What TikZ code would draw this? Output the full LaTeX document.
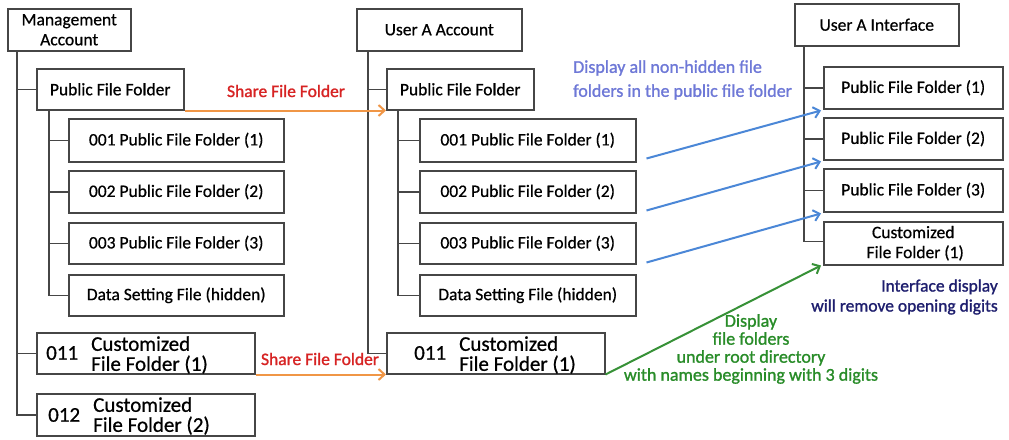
\documentclass[tikz,border=0pt]{standalone}
\usepackage{fontspec}
\setmainfont{Carlito}[FakeBold=0.6]
\newfontfamily\heavyfont{Carlito}[FakeBold=1.2]
\usetikzlibrary{arrows.meta,calc}
\definecolor{boxc}{RGB}{70,70,70}
\definecolor{redt}{RGB}{215,35,35}
\definecolor{orangea}{RGB}{240,150,70}
\definecolor{bluea}{RGB}{75,135,215}
\definecolor{bluet}{RGB}{110,120,215}
\definecolor{navyt}{RGB}{30,30,110}
\definecolor{greena}{RGB}{55,145,55}
\definecolor{greent}{RGB}{40,140,40}
\newcommand\fsA{\fontsize{17.5}{20}\selectfont}
\newcommand\fsB{\fontsize{21}{20}\selectfont}
\begin{document}
\begin{tikzpicture}[x=1pt,y=-1pt,
  box/.style={draw=boxc, line width=1.5pt, inner sep=0pt, minimum height=42pt, anchor=north west, font=\fsA, align=center},
  tline/.style={draw=boxc, line width=1.5pt},
  txt/.style={inner sep=0pt, font=\heavyfont\fsA},
  big/.style={inner sep=0pt, font=\fsB, align=left},
  share/.style={draw=orangea, line width=2pt, -{Straight Barb[length=6pt,width=11pt]}},
  bluearr/.style={draw=bluea, line width=2pt, -{Straight Barb[length=6pt,width=11pt]}},
  greenarr/.style={draw=greena, line width=2pt, -{Straight Barb[length=6pt,width=11pt]}},
]
\useasboundingbox (0,0) rectangle (1009,439);
\fill[white] (0,0) rectangle (1009,439);

% ---------- Management Account ----------
\node[box, minimum width=123pt] (mgmt) at (7,8) {Management\\Account};
\node[box, minimum width=147pt, minimum height=41pt] (mpub) at (36,68) {Public File Folder};
\node[box, minimum width=215pt, minimum height=43pt] (m001) at (68,118) {001 Public File Folder (1)};
\node[box, minimum width=215pt] (m002) at (68,170) {002 Public File Folder (2)};
\node[box, minimum width=215pt, minimum height=41pt] (m003) at (68,222) {003 Public File Folder (3)};
\node[box, minimum width=215pt, minimum height=41pt] (mdata) at (68,274) {Data Setting File (hidden)};
\node[box, minimum width=218pt, minimum height=41pt] (m011) at (36,332) {};
\node[big, anchor=west] (m011n) at (46,353) {011};
\node[big, anchor=west] (m011t) at (91,355) {Customized\\File Folder (1)};
\node[box, minimum width=218pt, minimum height=42pt] (m012) at (36,393) {};
\node[big, anchor=west] (m012n) at (48,415) {012};
\node[big, anchor=west] (m012t) at (93,416) {Customized\\File Folder (2)};

\coordinate (mt) at ([xshift=10pt]mgmt.south west);
\draw[tline] (mt) |- (m012.west);
\draw[tline] (mt |- mpub.west) -- (mpub.west);
\draw[tline] (mt |- m011.west) -- (m011.west);
\coordinate (ms) at ([xshift=13pt]mpub.south west);
\draw[tline] (ms) |- (mdata.west);
\draw[tline] (ms |- m001.west) -- (m001.west);
\draw[tline] (ms |- m002.west) -- (m002.west);
\draw[tline] (ms |- m003.west) -- (m003.west);

% ---------- User A Account ----------
\node[box, minimum width=165pt] (uacc) at (356,8) {User A Account};
\node[box, minimum width=147pt, minimum height=41pt] (apub) at (386,68) {Public File Folder};
\node[box, minimum width=216pt, minimum height=43pt] (a001) at (419,118) {001 Public File Folder (1)};
\node[box, minimum width=216pt] (a002) at (419,170) {002 Public File Folder (2)};
\node[box, minimum width=216pt, minimum height=41pt] (a003) at (419,222) {003 Public File Folder (3)};
\node[box, minimum width=216pt, minimum height=41pt] (adata) at (419,274) {Data Setting File (hidden)};
\node[box, minimum width=218pt, minimum height=41pt] (a011) at (386,332) {};
\node[big, anchor=west] (a011n) at (414,353) {011};
\node[big, anchor=west] (a011t) at (459,355) {Customized\\File Folder (1)};

\coordinate (at) at ([xshift=12pt]uacc.south west);
\draw[tline] (at) |- (a011.west);
\draw[tline] (at |- apub.west) -- (apub.west);
\coordinate (as) at ([xshift=12pt]apub.south west);
\draw[tline] (as) |- (adata.west);
\draw[tline] (as |- a001.west) -- (a001.west);
\draw[tline] (as |- a002.west) -- (a002.west);
\draw[tline] (as |- a003.west) -- (a003.west);

% ---------- User A Interface ----------
\node[box, minimum width=164pt] (uint) at (794,3) {User A Interface};
\node[box, minimum width=179pt] (i1) at (823,66) {Public File Folder (1)};
\node[box, minimum width=179pt] (i2) at (823,117) {Public File Folder (2)};
\node[box, minimum width=179pt, minimum height=43pt] (i3) at (823,168) {Public File Folder (3)};
\node[box, minimum width=179pt, minimum height=43pt] (icust) at (823,221) {Customized\\\ File Folder (1)};

\coordinate (it) at ([xshift=10pt]uint.south west);
\draw[tline] (it) |- ([yshift=2pt]icust.west);
\draw[tline] (it |- i1.west) -- (i1.west);
\draw[tline] (it |- i2.west) -- (i2.west);
\draw[tline] (it |- i3.west) -- (i3.west);

% ---------- Arrows ----------
\draw[share] (mpub.south east) -- (apub.south west);
\draw[share] (m011.south east) -- (a011.south west);
\node[txt, text=redt] (lab1) at (286,91) {Share File Folder};
\node[txt, text=redt] (lab2) at (320,359) {Share File Folder};

\draw[bluearr] ([xshift=10pt,yshift=4pt]a001.south east) -- ([xshift=-2pt,yshift=-1pt]i1.south west);
\draw[bluearr] ([xshift=10pt,yshift=3pt]a002.south east) -- ([xshift=-2pt,yshift=-1pt]i2.south west);
\draw[bluearr] ([xshift=10pt,yshift=2pt]a003.south east) -- ([xshift=-2pt,yshift=-1pt]i3.south west);
\draw[greenarr] (a011.south east) -- ([xshift=-2pt,yshift=0pt]icust.south west);

\node[txt, text=bluet, align=left, anchor=west, font=\heavyfont\fontsize{18}{24}\selectfont] (bl) at (573,80) {Display all non-hidden file\\folders in the public file folder};
\node[txt, text=navyt, align=right, anchor=east, font=\heavyfont\fontsize{17.5}{20}\selectfont] (nv) at (998,297) {Interface display\\will remove opening digits};
\node[txt, text=greent, align=center, font=\heavyfont\fontsize{18}{18}\selectfont] (gr) at (751,349) {Display\\file folders\\under root directory\\with names beginning with 3 digits};
\end{tikzpicture}
\end{document}
